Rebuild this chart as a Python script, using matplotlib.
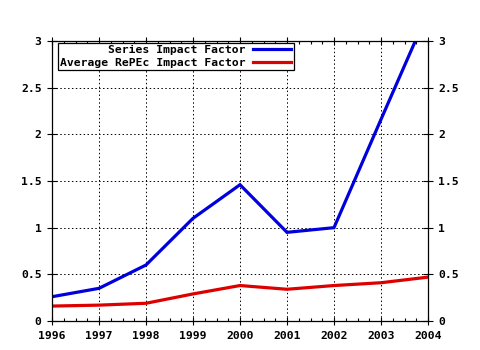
import matplotlib
matplotlib.use("Agg")
import matplotlib.pyplot as plt
from matplotlib.ticker import MultipleLocator, FormatStrFormatter

# impact factors per year
years = [1996, 1997, 1998, 1999, 2000, 2001, 2002, 2003, 2004]
series_if = [0.26, 0.35, 0.60, 1.10, 1.46, 0.95, 1.00, 2.16, 3.31]
repec_if = [0.16, 0.17, 0.19, 0.29, 0.38, 0.34, 0.38, 0.41, 0.47]
labels = ["Series Impact Factor", "Average RePEc Impact Factor"]

plt.rcParams["font.family"] = "DejaVu Sans Mono"
plt.rcParams["font.weight"] = "bold"
plt.rcParams["font.size"] = 8.2

fig = plt.figure(figsize=(4.8, 3.5), dpi=100)
ax = fig.add_axes([52 / 480, 1 - 321 / 350, 376 / 480, 280 / 350])

ax.plot(years, series_if, color="#0000dd", lw=2.3, label=labels[0],
        solid_joinstyle="miter")
ax.plot(years, repec_if, color="#dd0000", lw=2.3, label=labels[1],
        solid_joinstyle="miter")

ax.set_xlim(1996, 2004)
ax.set_ylim(0, 3)
ax.xaxis.set_major_locator(MultipleLocator(1))
ax.xaxis.set_minor_locator(MultipleLocator(0.25))
ax.yaxis.set_major_locator(MultipleLocator(0.5))
ax.yaxis.set_major_formatter(FormatStrFormatter("%g"))

ax.grid(True, which="major", color="black", ls=(0, (1.5, 2.5)), lw=0.7)
ax.tick_params(which="both", direction="in", top=True, right=True,
               labelright=True, color="black", width=0.8)
ax.tick_params(which="major", length=5, pad=4)
ax.tick_params(which="minor", length=2.5)
ax.tick_params(axis="y", which="major", direction="inout", length=7)
ax.tick_params(axis="x", which="major", direction="inout", length=6)
for s in ax.spines.values():
    s.set_linewidth(0.9)

leg = ax.legend(loc="upper left", bbox_to_anchor=(6 / 376, 1 - 2 / 280),
                markerfirst=False, fancybox=False, framealpha=1,
                edgecolor="black", borderpad=0.2, labelspacing=0.2,
                handlelength=3.4, handletextpad=0.6, borderaxespad=0,
                prop={"family": "DejaVu Sans Mono", "weight": "bold", "size": 8.2})
leg.get_frame().set_linewidth(0.9)

fig.savefig("out.png", dpi=100)
